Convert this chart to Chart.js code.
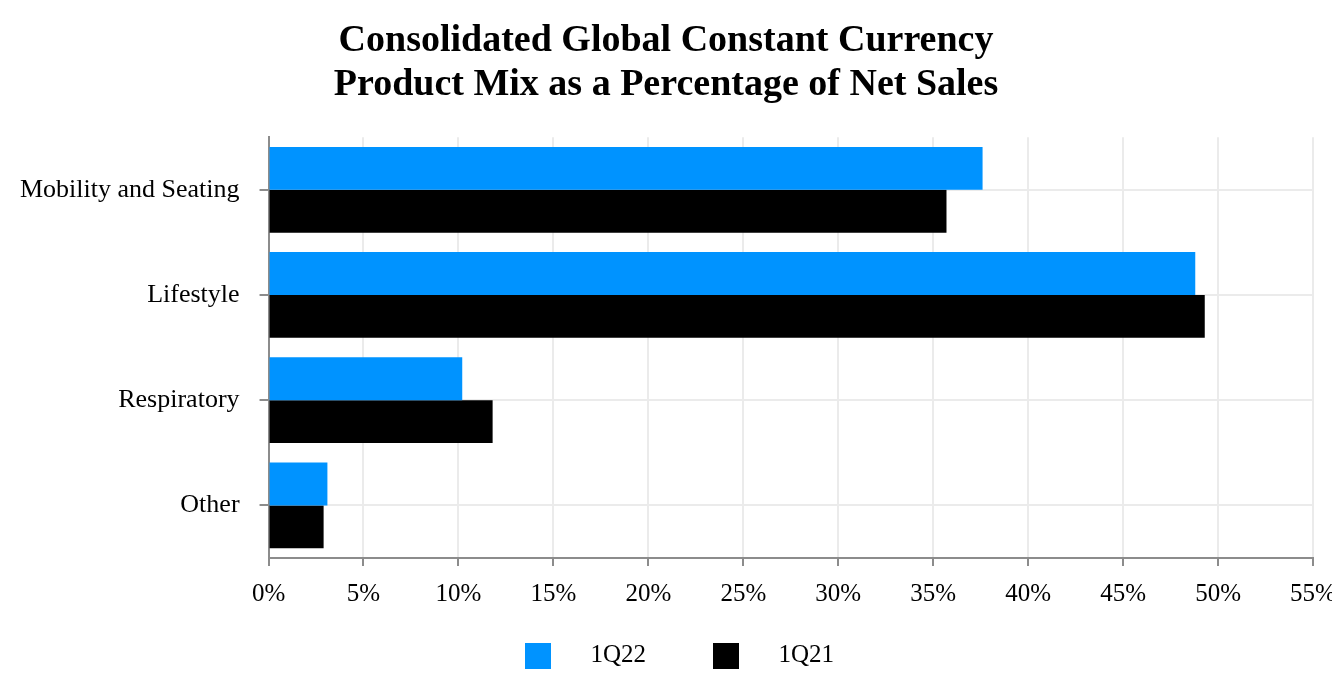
<!DOCTYPE html>
<html>
<head>
<meta charset="utf-8">
<script src="https://cdn.jsdelivr.net/npm/chart.js@4.4.1/dist/chart.umd.min.js"></script>
<style>
html, body { margin: 0; padding: 0; background: #fff; }
</style>
</head>
<body>
<canvas id="bar-chart" width="1332" height="700"></canvas>
<script>
const categories = ["Mobility and Seating", "Lifestyle", "Respiratory", "Other"];
const q22Values = [37.6, 48.8, 10.2, 3.1];
const q21Values = [35.7, 49.3, 11.8, 2.9];
const seriesNames = ["1Q22", "1Q21"];
const seriesColors = ["#0093ff", "#000000"];
const titleLines = ["Consolidated Global Constant Currency", "Product Mix as a Percentage of Net Sales"];
const xMax = 55;
const xStep = 5;

// legend swatch: a 26px square near the right end of a transparent image,
// so the legend leaves a wider gap between the box and its text
const swatchW = 80;
function swatch(color) {
  const c = document.createElement("canvas");
  c.width = swatchW;
  c.height = 26;
  const g = c.getContext("2d");
  g.fillStyle = color;
  g.fillRect(swatchW - 53, 0, 26, 26);
  return c;
}
const swatches = seriesColors.map(swatch);

Chart.defaults.font.family = "'Liberation Serif', 'Times New Roman', serif";
Chart.defaults.color = "#000";

new Chart(document.getElementById("bar-chart"), {
  type: 'bar',
  data: {
    labels: categories,
    datasets: [
      { label: seriesNames[0], backgroundColor: seriesColors[0], data: q22Values },
      { label: seriesNames[1], backgroundColor: seriesColors[1], data: q21Values }
    ]
  },
  options: {
    indexAxis: 'y',
    responsive: false,
    animation: false,
    categoryPercentage: 0.815,
    barPercentage: 1,
    layout: { padding: { left: 0, right: 0, top: 0, bottom: 22 } },
    plugins: {
      title: {
        display: true,
        text: titleLines,
        font: { size: 38, weight: 'bold', lineHeight: 1.16 },
        padding: { top: 19, bottom: 30 }
      },
      legend: {
        position: 'bottom',
        labels: {
          usePointStyle: true,
          pointStyleWidth: swatchW,
          boxHeight: 26,
          padding: 40,
          font: { size: 25 },
          generateLabels: chart => Chart.defaults.plugins.legend.labels.generateLabels(chart)
            .map((item, i) => Object.assign(item, { pointStyle: swatches[i] }))
        }
      },
      tooltip: { enabled: false }
    },
    scales: {
      x: {
        min: 0,
        max: xMax,
        ticks: { stepSize: xStep, callback: v => v + '%', font: { size: 25 }, padding: 13 },
        grid: { color: '#ebebeb', lineWidth: 2, tickColor: '#8c8c8c', tickLength: 8 },
        border: { color: '#8c8c8c', width: 2 },
        // let the clipped 55% label run off the edge, and pull the legend up under the labels
        afterFit: s => { s.paddingRight = 19; s.height -= 19; }
      },
      y: {
        ticks: { font: { size: 26 }, padding: 20 },
        grid: { offset: false, color: '#ebebeb', lineWidth: 2, tickColor: '#8c8c8c', tickLength: 9 },
        border: { color: '#8c8c8c', width: 2 }
      }
    }
  }
});
</script>
</body>
</html>
